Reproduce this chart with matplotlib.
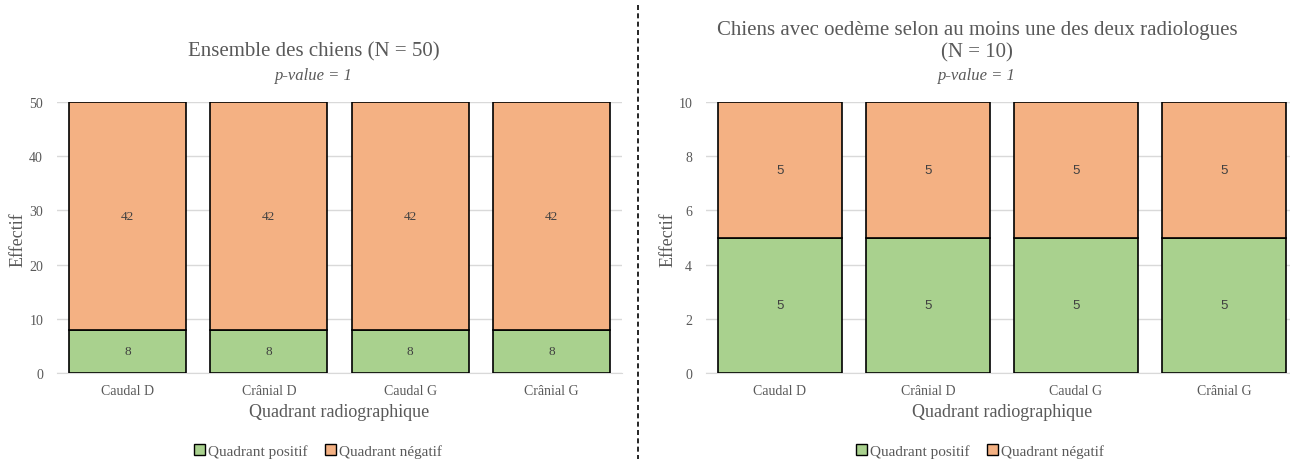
import matplotlib.pyplot as plt
from matplotlib.patches import Patch
from matplotlib.lines import Line2D

# Data
quadrants = ["Caudal D", "Crânial D", "Caudal G", "Crânial G"]
tous_positif = [8, 8, 8, 8]
tous_negatif = [42, 42, 42, 42]
oedeme_positif = [5, 5, 5, 5]
oedeme_negatif = [5, 5, 5, 5]

green = "#A9D18E"
orange = "#F4B183"
grey = "#595959"

plt.rcParams["font.family"] = ["Liberation Serif", "DejaVu Serif"]

fig = plt.figure(figsize=(12.9, 4.64), dpi=100)
W, H = 1290, 464


def px_axes(x0, x1, y_top, y_bot):
    return fig.add_axes([x0 / W, 1 - y_bot / H, (x1 - x0) / W, (y_bot - y_top) / H])


def draw_panel(ax, pos, neg, ymax, step, width, label_font):
    x = range(len(quadrants))
    ax.bar(x, pos, width=width, color=green, edgecolor="black", linewidth=1.2, zorder=3)
    ax.bar(x, neg, bottom=pos, width=width, color=orange, edgecolor="black", linewidth=1.2, zorder=3)
    for i in x:
        ax.text(i, pos[i] / 2, str(pos[i]), ha="center", va="center", fontsize=9.5,
                color="#404040", family=label_font, zorder=4)
        ax.text(i, pos[i] + neg[i] / 2, str(neg[i]), ha="center", va="center", fontsize=9.5,
                color="#404040", family=label_font, zorder=4)
    ax.set_xlim(-0.5, len(quadrants) - 0.5)
    ax.set_ylim(0, ymax)
    ax.set_yticks(range(0, ymax + 1, step))
    ax.set_xticks(list(x))
    ax.set_xticklabels(quadrants, fontsize=10, color=grey)
    ax.tick_params(axis="y", labelsize=10, labelcolor=grey, length=0, pad=10)
    ax.tick_params(axis="x", length=0, pad=8)
    ax.grid(axis="y", color="#D9D9D9", linewidth=1, zorder=0)
    for s in ["top", "right", "left"]:
        ax.spines[s].set_visible(False)
    ax.spines["bottom"].set_color("#D9D9D9")
    ax.set_xlabel("Quadrant radiographique", fontsize=13, color=grey, labelpad=4)


ax1 = px_axes(57, 622, 103, 374)
draw_panel(ax1, tous_positif, tous_negatif, 50, 10, 0.83, ["Liberation Serif"])

ax2 = px_axes(706, 1298, 103, 374)
draw_panel(ax2, oedeme_positif, oedeme_negatif, 10, 2, 0.84, ["Liberation Sans"])

# Y labels
for lx in (18, 668):
    fig.text(lx / W, 1 - 240 / H, "Effectif", rotation=90, ha="center", va="center",
             fontsize=13, color=grey)

# Titles
fig.text(314 / W, 1 - 52 / H, "Ensemble des chiens (N = 50)", ha="center", va="center",
         fontsize=15, color=grey)
fig.text(314 / W, 1 - 76 / H, "p-value = 1", ha="center", va="center",
         fontsize=12, color=grey, style="italic")
fig.text(977 / W, 1 - 30 / H, "Chiens avec oedème selon au moins une des deux radiologues",
         ha="center", va="center", fontsize=15, color=grey)
fig.text(977 / W, 1 - 53 / H, "(N = 10)", ha="center", va="center", fontsize=15, color=grey)
fig.text(977 / W, 1 - 76 / H, "p-value = 1", ha="center", va="center",
         fontsize=12, color=grey, style="italic")

# Legends
handles = [Patch(facecolor=green, edgecolor="black", label="Quadrant positif"),
           Patch(facecolor=orange, edgecolor="black", label="Quadrant négatif")]
for cx in (318, 980):
    fig.legend(handles=handles, loc="center", bbox_to_anchor=(cx / W, 1 - 452 / H), ncol=2,
               frameon=False, fontsize=11, handlelength=0.7, handleheight=0.7,
               handletextpad=0.2, columnspacing=1.2, labelcolor=grey)

# Dashed separator
fig.add_artist(Line2D([638 / W, 638 / W], [1 - 6 / H, 1 - 460 / H], color="black",
                      linestyle=(0, (3, 2)), linewidth=1.2, transform=fig.transFigure))

fig.savefig("out.png", dpi=100)
